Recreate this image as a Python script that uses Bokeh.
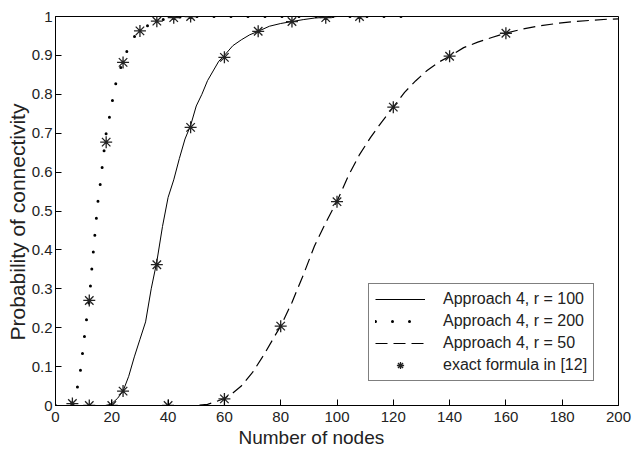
from bokeh.plotting import figure
from bokeh.models import (Range1d, FixedTicker, NumeralTickFormatter, ColumnDataSource, Legend,
                          LegendItem, Title)
from bokeh.embed import file_html
from bokeh.resources import INLINE

# Approach 4, r = 100 (solid)
x_r100 = [0, 18, 19, 20, 22, 24, 26, 28, 30, 32, 34, 36, 38, 40, 42, 44, 46, 48, 50, 52, 54, 56, 58, 60,
          63, 66, 69, 72, 76, 80, 84, 88, 92, 96, 100, 200]
y_r100 = [0, 0, 0.002, 0.005, 0.018, 0.037, 0.075, 0.125, 0.17, 0.215, 0.30, 0.37, 0.46, 0.535, 0.58,
          0.635, 0.685, 0.72, 0.77, 0.80, 0.835, 0.86, 0.885, 0.90, 0.925, 0.94, 0.953, 0.962, 0.975,
          0.982, 0.987, 0.992, 0.996, 0.998, 1.0, 1.0]

# Approach 4, r = 200 (dotted)
x_r200 = [0, 4, 5, 6, 7, 8, 9, 10, 11, 12, 13, 14, 15, 16, 17, 18, 19, 20, 21, 22, 24, 26, 28, 30, 33,
          36, 40, 45, 50, 125]
y_r200 = [0, 0, 0.002, 0.008, 0.025, 0.053, 0.096, 0.16, 0.22, 0.27, 0.36, 0.44, 0.52, 0.575, 0.64,
          0.70, 0.735, 0.775, 0.815, 0.845, 0.885, 0.922, 0.948, 0.963, 0.978, 0.988, 0.996, 0.999,
          1.0, 1.0]

# Approach 4, r = 50 (dashed)
x_r50 = [0, 50, 54, 57, 60, 63, 66, 70, 74, 78, 80, 84, 88, 92, 96, 100, 104, 108, 112, 116, 120, 124,
         128, 132, 136, 140, 145, 150, 155, 160, 166, 172, 178, 184, 190, 196, 200]
y_r50 = [0, 0, 0.003, 0.01, 0.018, 0.032, 0.05, 0.085, 0.13, 0.18, 0.204, 0.265, 0.335, 0.41, 0.47,
         0.525, 0.59, 0.645, 0.69, 0.73, 0.767, 0.805, 0.835, 0.861, 0.882, 0.898, 0.92, 0.934, 0.946,
         0.957, 0.968, 0.976, 0.982, 0.987, 0.990, 0.993, 0.994]

# exact formula in [12] (stars)
star_x_r200 = [6, 12, 18, 24, 30, 36, 42, 48]
star_y_r200 = [0.005, 0.27, 0.677, 0.882, 0.963, 0.988, 0.997, 1.0]
star_x_r100 = [12, 24, 36, 48, 60, 72, 84, 96, 108]
star_y_r100 = [0.0, 0.037, 0.362, 0.715, 0.895, 0.962, 0.987, 0.997, 1.0]
star_x_r50 = [20, 40, 60, 80, 100, 120, 140, 160]
star_y_r50 = [0.0, 0.0, 0.017, 0.204, 0.524, 0.767, 0.898, 0.957]

x_ticks = [0, 20, 40, 60, 80, 100, 120, 140, 160, 180, 200]
y_ticks = [0, 0.1, 0.2, 0.3, 0.4, 0.5, 0.6, 0.7, 0.8, 0.9, 1.0]

x_title = "Number of nodes"
y_title = "Probability of connectivity"

FONT = "Liberation Sans"
TXT = "#222222"

p = figure(width=638, height=453, output_backend="svg", toolbar_location=None,
           x_range=Range1d(0, 200), y_range=Range1d(0, 1),
           min_border_left=55, min_border_right=20, min_border_top=16, min_border_bottom=48)
p.grid.visible = False
p.outline_line_color = "black"
p.outline_line_width = 1
p.background_fill_color = "white"
p.border_fill_color = "white"

for ax in (p.xaxis[0], p.yaxis[0]):
    ax.major_tick_in = 6
    ax.major_tick_out = 0
    ax.minor_tick_line_color = None
    ax.axis_line_color = "black"
    ax.major_tick_line_color = "black"
    ax.major_label_text_font = FONT
    ax.major_label_text_font_size = "15px"
    ax.major_label_text_color = TXT

p.xaxis.ticker = FixedTicker(ticks=x_ticks)
p.yaxis.ticker = FixedTicker(ticks=y_ticks)
p.yaxis.formatter = NumeralTickFormatter(format="0.[0]")
p.xaxis.major_label_standoff = 6
p.yaxis.major_label_standoff = 3

# axis titles, positioned as in the reference
p.add_layout(Title(text=x_title, align="left", offset=183, standoff=0, text_font=FONT,
                   text_font_size="19px", text_font_style="normal", text_color=TXT), "below")
p.add_layout(Title(text=y_title, align="left", offset=65, standoff=0, text_font=FONT,
                   text_font_size="21px", text_font_style="normal", text_color=TXT), "left")

r1 = p.line(x_r100, y_r100, line_color="black", line_width=1)
r2 = p.line(x_r200, y_r200, line_color="black", line_width=3, line_dash="0 17", line_cap="round")
r3 = p.line(x_r50, y_r50, line_color="black", line_width=1.2, line_dash="12 6")

src = ColumnDataSource(dict(x=star_x_r200 + star_x_r100 + star_x_r50,
                            y=star_y_r200 + star_y_r100 + star_y_r50))
r4 = p.scatter("x", "y", source=src, marker="asterisk", size=12, line_color="#222222", line_width=1.3)

legend = Legend(items=[LegendItem(label="Approach 4, r = 100", renderers=[r1]),
                       LegendItem(label="Approach 4, r = 200", renderers=[r2]),
                       LegendItem(label="Approach 4, r = 50", renderers=[r3]),
                       LegendItem(label="exact formula in [12]", renderers=[r4])],
                location=(313, 24))
legend.label_text_font = FONT
legend.label_text_font_size = "16px"
legend.label_text_color = TXT
legend.glyph_width = 50
legend.glyph_height = 18
legend.label_height = 18
legend.label_standoff = 18
legend.spacing = 4
legend.padding = 6
legend.border_line_color = "black"
legend.border_line_width = 1
legend.background_fill_alpha = 1
p.add_layout(legend, "center")

open("out.html", "w").write(file_html(p, INLINE))
